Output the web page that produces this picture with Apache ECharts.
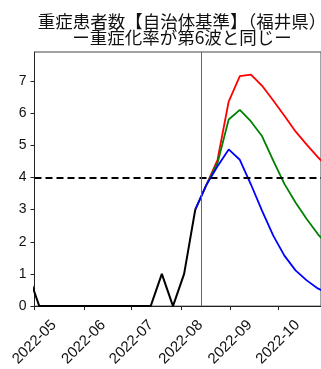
<!DOCTYPE html>
<html><head><meta charset="utf-8">
<script src="https://cdn.jsdelivr.net/npm/echarts@6/dist/echarts.min.js"></script>
<style>html,body{margin:0;padding:0;background:#fff}#c{width:321px;height:369px}</style>
</head><body><div id="c"></div>
<script>
const titleLines = ['重症患者数【自治体基準】（福井県）', 'ー重症化率が第6波と同じー'];
const actualDates = ['2022-04-27','2022-05-04','2022-05-11','2022-05-18','2022-05-25','2022-06-01','2022-06-08','2022-06-15','2022-06-22','2022-06-29','2022-07-06','2022-07-13','2022-07-20','2022-07-27','2022-08-03','2022-08-10'];
const actualValues = [1,0,0,0,0,0,0,0,0,0,0,0,1,0,1,3];
const forecastDates = ['2022-08-10','2022-08-17','2022-08-24','2022-08-31','2022-09-07','2022-09-14','2022-09-21','2022-09-28','2022-10-05','2022-10-12','2022-10-19','2022-10-26','2022-11-02'];
const redValues   = [3,3.77,4.55,6.36,7.15,7.2,6.85,6.39,5.92,5.43,5.02,4.63,4.28];
const greenValues = [3,3.77,4.45,5.8,6.1,5.74,5.28,4.52,3.8,3.22,2.71,2.24,1.85];
const blueValues  = [3,3.77,4.35,4.87,4.55,3.78,2.96,2.19,1.57,1.11,0.8,0.55,0.38];
const monthTicks = ['2022-05-01','2022-06-01','2022-07-01','2022-08-01','2022-09-01','2022-10-01'];
const yTicks = [0,1,2,3,4,5,6,7];
const thresholdValue = 4;
const markerDate = '2022-08-14';
const xMin = '2022-05-01', xMax = '2022-10-28';
const yMax = 7.9;

function t(s){const p=s.split('-').map(Number);return new Date(p[0],p[1]-1,p[2]||1).getTime();}
function pairs(ds,vs){return ds.map((d,i)=>[t(d),vs[i]]);}

const chart = echarts.init(document.getElementById('c'), null, {renderer:'canvas'});
chart.setOption({
  animation:false,
  title:{text:titleLines.join('\n'), left:177, top:8, textAlign:'center',
    textStyle:{fontFamily:'Noto Sans CJK JP', fontSize:17.5, fontWeight:'normal', color:'#111', lineHeight:16}},
  grid:{left:34.5, top:52, width:288, height:255.7, show:true, borderColor:'#444', borderWidth:1, backgroundColor:'transparent'},
  xAxis:{type:'time', min:t(xMin), max:t(xMax),
    axisLine:{show:true, lineStyle:{color:'#222', width:1}},
    axisTick:{show:true, length:4, inside:false, customValues:monthTicks.map(t), lineStyle:{color:'#222'}},
    splitLine:{show:false},
    axisLabel:{rotate:45, align:'center', verticalAlign:'middle', margin:36,
      customValues:monthTicks.map(t), formatter:'{yyyy}-{MM}', hideOverlap:false,
      fontFamily:'Liberation Sans', fontSize:15, color:'#111'}},
  yAxis:{type:'value', min:0, max:yMax,
    axisLine:{show:true, lineStyle:{color:'#222', width:1}},
    axisTick:{show:true, length:4, customValues:yTicks, lineStyle:{color:'#222'}},
    splitLine:{show:false},
    axisLabel:{margin:8, customValues:yTicks, fontFamily:'Liberation Sans', fontSize:14, color:'#111'}},
  series:[
    {type:'line', data:pairs(forecastDates,redValues), symbol:'none', lineStyle:{color:'#ff0000', width:1.8}, z:3},
    {type:'line', data:pairs(forecastDates,greenValues), symbol:'none', lineStyle:{color:'#008000', width:1.8}, z:3},
    {type:'line', data:pairs(forecastDates,blueValues), symbol:'none', lineStyle:{color:'#0000ff', width:1.8}, z:3},
    {type:'line', data:pairs(actualDates,actualValues), symbol:'none', lineStyle:{color:'#000', width:2}, z:4,
      markLine:{symbol:'none', silent:true, label:{show:false},
        data:[
          {yAxis:thresholdValue, lineStyle:{color:'#000', width:2, type:[7,4]}},
          {xAxis:t(markerDate), lineStyle:{color:'#666', width:1, type:'solid'}}
        ]}}
  ]
});
</script></body></html>
